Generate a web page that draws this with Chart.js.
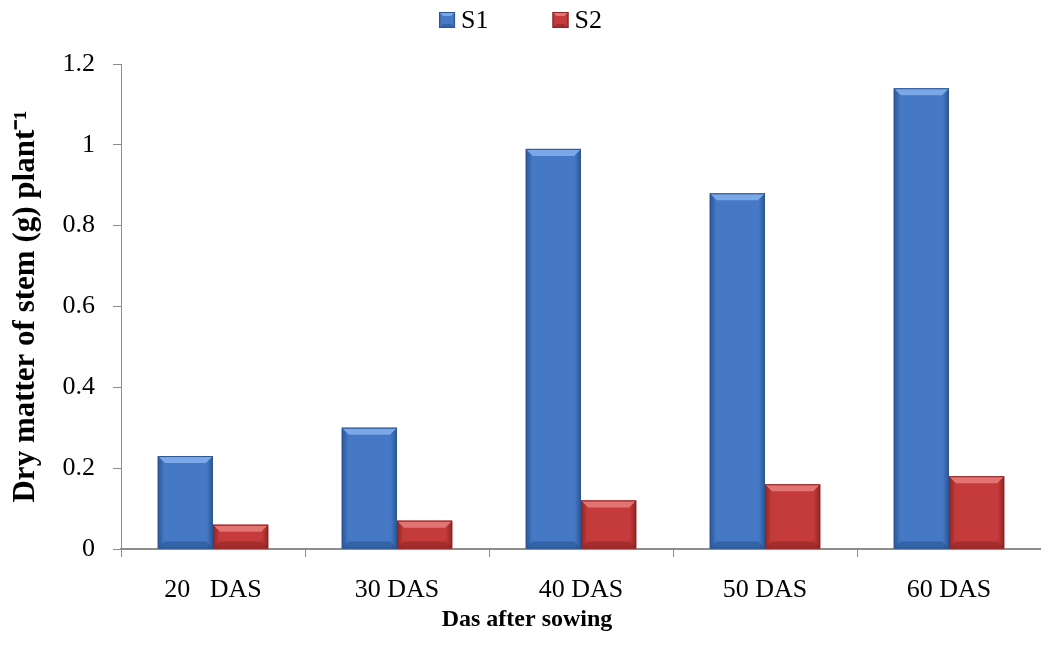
<!DOCTYPE html>
<html>
<head>
<meta charset="utf-8">
<script src="https://cdn.jsdelivr.net/npm/chart.js@4.4.1/dist/chart.umd.min.js"></script>
<style>
  html, body { margin: 0; padding: 0; background: #fff; }
  #wrap { width: 1041px; height: 664px; }
</style>
</head>
<body>
<div id="wrap"><canvas id="barChart" width="1041" height="664"></canvas></div>
<script>
// data
var categories = ['20   DAS', '30 DAS', '40 DAS', '50 DAS', '60 DAS'];
var seriesNames = ['S1', 'S2'];
var s1Values = [0.23, 0.30, 0.99, 0.88, 1.14];
var s2Values = [0.06, 0.07, 0.12, 0.16, 0.18];
var yTicks = [0, 0.2, 0.4, 0.6, 0.8, 1, 1.2];
var xTitle = 'Das after sowing';
var yTitle = 'Dry matter of stem (g) plant\u207B\u00B9';

var FONT = '"Liberation Serif", "Times New Roman", serif';
var AXIS = '#8c8c8c';

// colours for the bevelled bars: body, dark edge, light top
var shade = [
    { body: '#4579c6', dark: '#2b5593', light: '#7aa8e8' },
    { body: '#c53b3b', dark: '#8d2525', light: '#e27474' }
];

function bevelBox(ctx, l, t, r, b, c, e) {
    var g = ctx.createLinearGradient(l, 0, r, 0);
    g.addColorStop(0, c.dark);
    g.addColorStop(0.12, c.body);
    g.addColorStop(0.88, c.body);
    g.addColorStop(1, c.dark);
    ctx.fillStyle = g;
    ctx.fillRect(l, t, r - l, b - t);
    // top bevel
    ctx.fillStyle = c.light;
    ctx.beginPath();
    ctx.moveTo(l, t); ctx.lineTo(r, t);
    ctx.lineTo(r - e, t + e); ctx.lineTo(l + e, t + e);
    ctx.closePath();
    ctx.fill();
    // bottom bevel
    ctx.globalAlpha = 0.6;
    ctx.fillStyle = c.dark;
    ctx.beginPath();
    ctx.moveTo(l, b); ctx.lineTo(r, b);
    ctx.lineTo(r - e, b - e); ctx.lineTo(l + e, b - e);
    ctx.closePath();
    ctx.fill();
    ctx.globalAlpha = 1;
    ctx.strokeStyle = c.dark;
    ctx.lineWidth = 1;
    ctx.strokeRect(l + 0.5, t + 0.5, r - l - 1, b - t - 1);
}

// bevel look on top of the bars chart.js has drawn
var bevelPlugin = {
    id: 'bevel',
    afterDatasetsDraw: function(chart) {
        var ctx = chart.ctx;
        chart.data.datasets.forEach(function(ds, di) {
            chart.getDatasetMeta(di).data.forEach(function(bar) {
                var p = bar.getProps(['x', 'y', 'base', 'width'], true);
                ctx.save();
                bevelBox(ctx, p.x - p.width / 2, p.y, p.x + p.width / 2, p.base,
                         shade[di], Math.min(7, (p.base - p.y) / 3));
                ctx.restore();
            });
        });
    }
};

// legend (centred over the canvas) and the x title, which sits left of the plot centre
var decorPlugin = {
    id: 'decor',
    afterDraw: function(chart) {
        var ctx = chart.ctx;
        var box = 16, gap = 6, itemGap = 64, cy = 20;
        ctx.save();
        ctx.font = '26px ' + FONT;
        ctx.fillStyle = '#000';
        var widths = seriesNames.map(function(n) { return box + gap + ctx.measureText(n).width; });
        var total = widths.reduce(function(a, b) { return a + b; }, 0) + itemGap * (seriesNames.length - 1);
        var x = chart.width / 2 - total / 2;
        seriesNames.forEach(function(n, i) {
            bevelBox(ctx, x, cy - box / 2, x + box, cy + box / 2, shade[i], 4);
            ctx.fillStyle = '#000';
            ctx.textBaseline = 'middle';
            ctx.textAlign = 'left';
            ctx.fillText(n, x + box + gap, cy + 1);
            x += widths[i] + itemGap;
        });

        ctx.font = 'bold 24px ' + FONT;
        ctx.textAlign = 'center';
        ctx.textBaseline = 'middle';
        ctx.fillText(xTitle, 527, 620);
        ctx.restore();
    }
};

var ctx = document.getElementById('barChart').getContext('2d');
new Chart(ctx, {
    type: 'bar',
    data: {
        labels: categories,
        datasets: [
            { label: seriesNames[0], data: s1Values, backgroundColor: shade[0].body, borderWidth: 0 },
            { label: seriesNames[1], data: s2Values, backgroundColor: shade[1].body, borderWidth: 0 }
        ]
    },
    plugins: [bevelPlugin, decorPlugin],
    options: {
        responsive: false,
        animation: false,
        layout: { padding: { top: 64, left: 0, right: 0, bottom: 0 } },
        datasets: { bar: { categoryPercentage: 0.6, barPercentage: 1.0 } },
        plugins: {
            tooltip: { enabled: false },
            legend: { display: false }
        },
        scales: {
            x: {
                grid: { display: true, drawOnChartArea: false, color: AXIS, tickLength: 8, offset: true },
                border: { color: AXIS, width: 2 },
                ticks: { font: { family: FONT, size: 26 }, color: '#000', padding: 18, maxRotation: 0 },
                afterFit: function(scale) { scale.height = 115; }
            },
            y: {
                min: 0,
                max: 1.2,
                grid: { display: true, drawOnChartArea: false, color: AXIS, tickLength: 8 },
                border: { color: AXIS, width: 1 },
                afterBuildTicks: function(scale) {
                    scale.ticks = yTicks.map(function(v) { return { value: v }; });
                },
                ticks: {
                    font: { family: FONT, size: 26 },
                    color: '#000',
                    padding: 18,
                    callback: function(v) { return String(+v.toFixed(1)); }
                },
                title: {
                    display: true,
                    text: yTitle,
                    font: { family: FONT, size: 31, weight: 'bold' },
                    color: '#000',
                    padding: { top: 7, bottom: 0 }
                },
                afterFit: function(scale) { scale.width = 121; }
            }
        }
    }
});
</script>
</body>
</html>
